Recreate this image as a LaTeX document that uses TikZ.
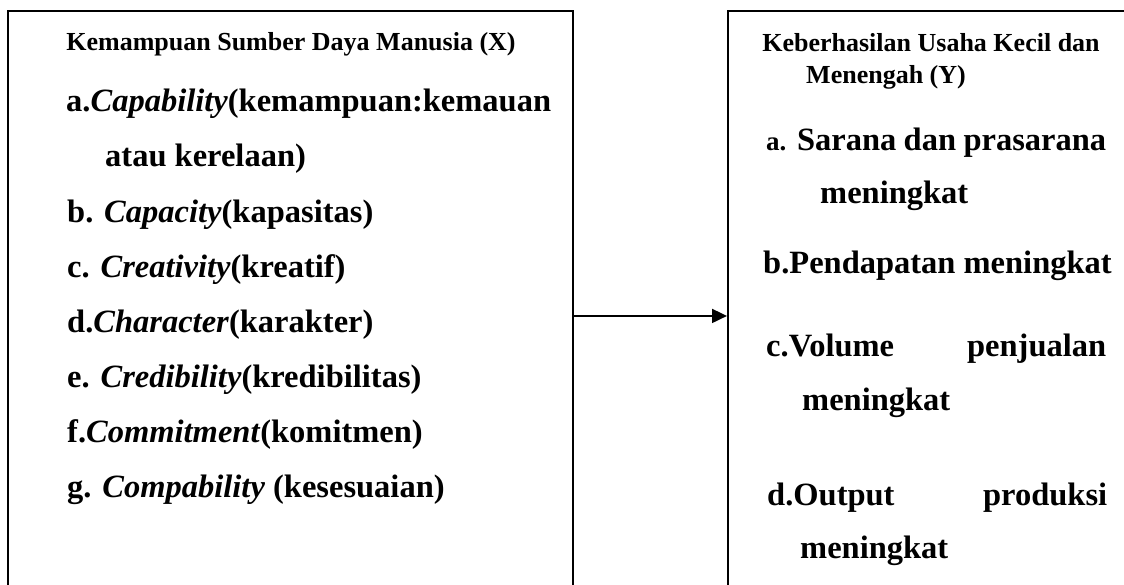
\documentclass[tikz,border=0pt]{standalone}
\usepackage{fontspec}
\setmainfont{Liberation Serif}
\usetikzlibrary{arrows.meta}
\newcommand\itemfont{\fontsize{32.5}{39}\selectfont\bfseries}
\newcommand\titlefont{\fontsize{26}{30}\selectfont\bfseries}
\tikzset{
  box/.style={draw, line width=1.9pt, rectangle, inner sep=0pt, anchor=north west},
  itemtxt/.style={anchor=base west, inner sep=0pt, font=\itemfont},
  titletxt/.style={anchor=base, inner sep=0pt, font=\titlefont},
  link/.style={line width=1.9pt, -{Triangle[length=15pt,width=14pt]}}
}
\begin{document}
\begin{tikzpicture}[x=1pt,y=-1pt]
\clip (0,0) rectangle (1124,584);
\fill[white] (0,0) rectangle (1124,584);
% boxes
\node[box, minimum width=565pt, minimum height=610pt] (X) at (7,10) {};
\node[box, minimum width=430pt, minimum height=610pt] (Y) at (727,10) {};
\draw[link] (X.east) -- (Y.west);
% left box text
\node[titletxt] (tx) at (291,50) {Kemampuan Sumber Daya Manusia (X)};
\node[itemtxt] (xa) at (66,111) {a.\textit{Capability}(kemampuan:kemauan};
\node[itemtxt] (xa2) at (105,166) {atau kerelaan)};
\node[itemtxt] (xb) at (67,222) {b. \textit{Capacity}(kapasitas)};
\node[itemtxt] (xc) at (67,277) {c. \textit{Creativity}(kreatif)};
\node[itemtxt] (xd) at (67,332) {d.\textit{Character}(karakter)};
\node[itemtxt] (xe) at (67,387) {e. \textit{Credibility}(kredibilitas)};
\node[itemtxt] (xf) at (67,442) {f.\textit{Commitment}(komitmen)};
\node[itemtxt] (xg) at (67,497) {g. \textit{Compability} (kesesuaian)};
% right box text
\node[titletxt] (ty1) at (931,51) {Keberhasilan Usaha Kecil dan};
\node[titletxt] (ty2) at (886,83) {Menengah (Y)};
\node[itemtxt] (ya) at (766,150) {\makebox[340pt][s]{{\fontsize{27}{32}\selectfont a.} Sarana dan prasarana}};
\node[itemtxt] (ya2) at (820,203) {meningkat};
\node[itemtxt] (yb) at (763,273) {b.Pendapatan meningkat};
\node[itemtxt] (yc) at (766,356) {\makebox[340pt][s]{c.Volume penjualan}};
\node[itemtxt] (yc2) at (802,410) {meningkat};
\node[itemtxt] (yd) at (767,505) {\makebox[340pt][s]{d.Output produksi}};
\node[itemtxt] (yd2) at (800,558) {meningkat};
\end{tikzpicture}
\end{document}
